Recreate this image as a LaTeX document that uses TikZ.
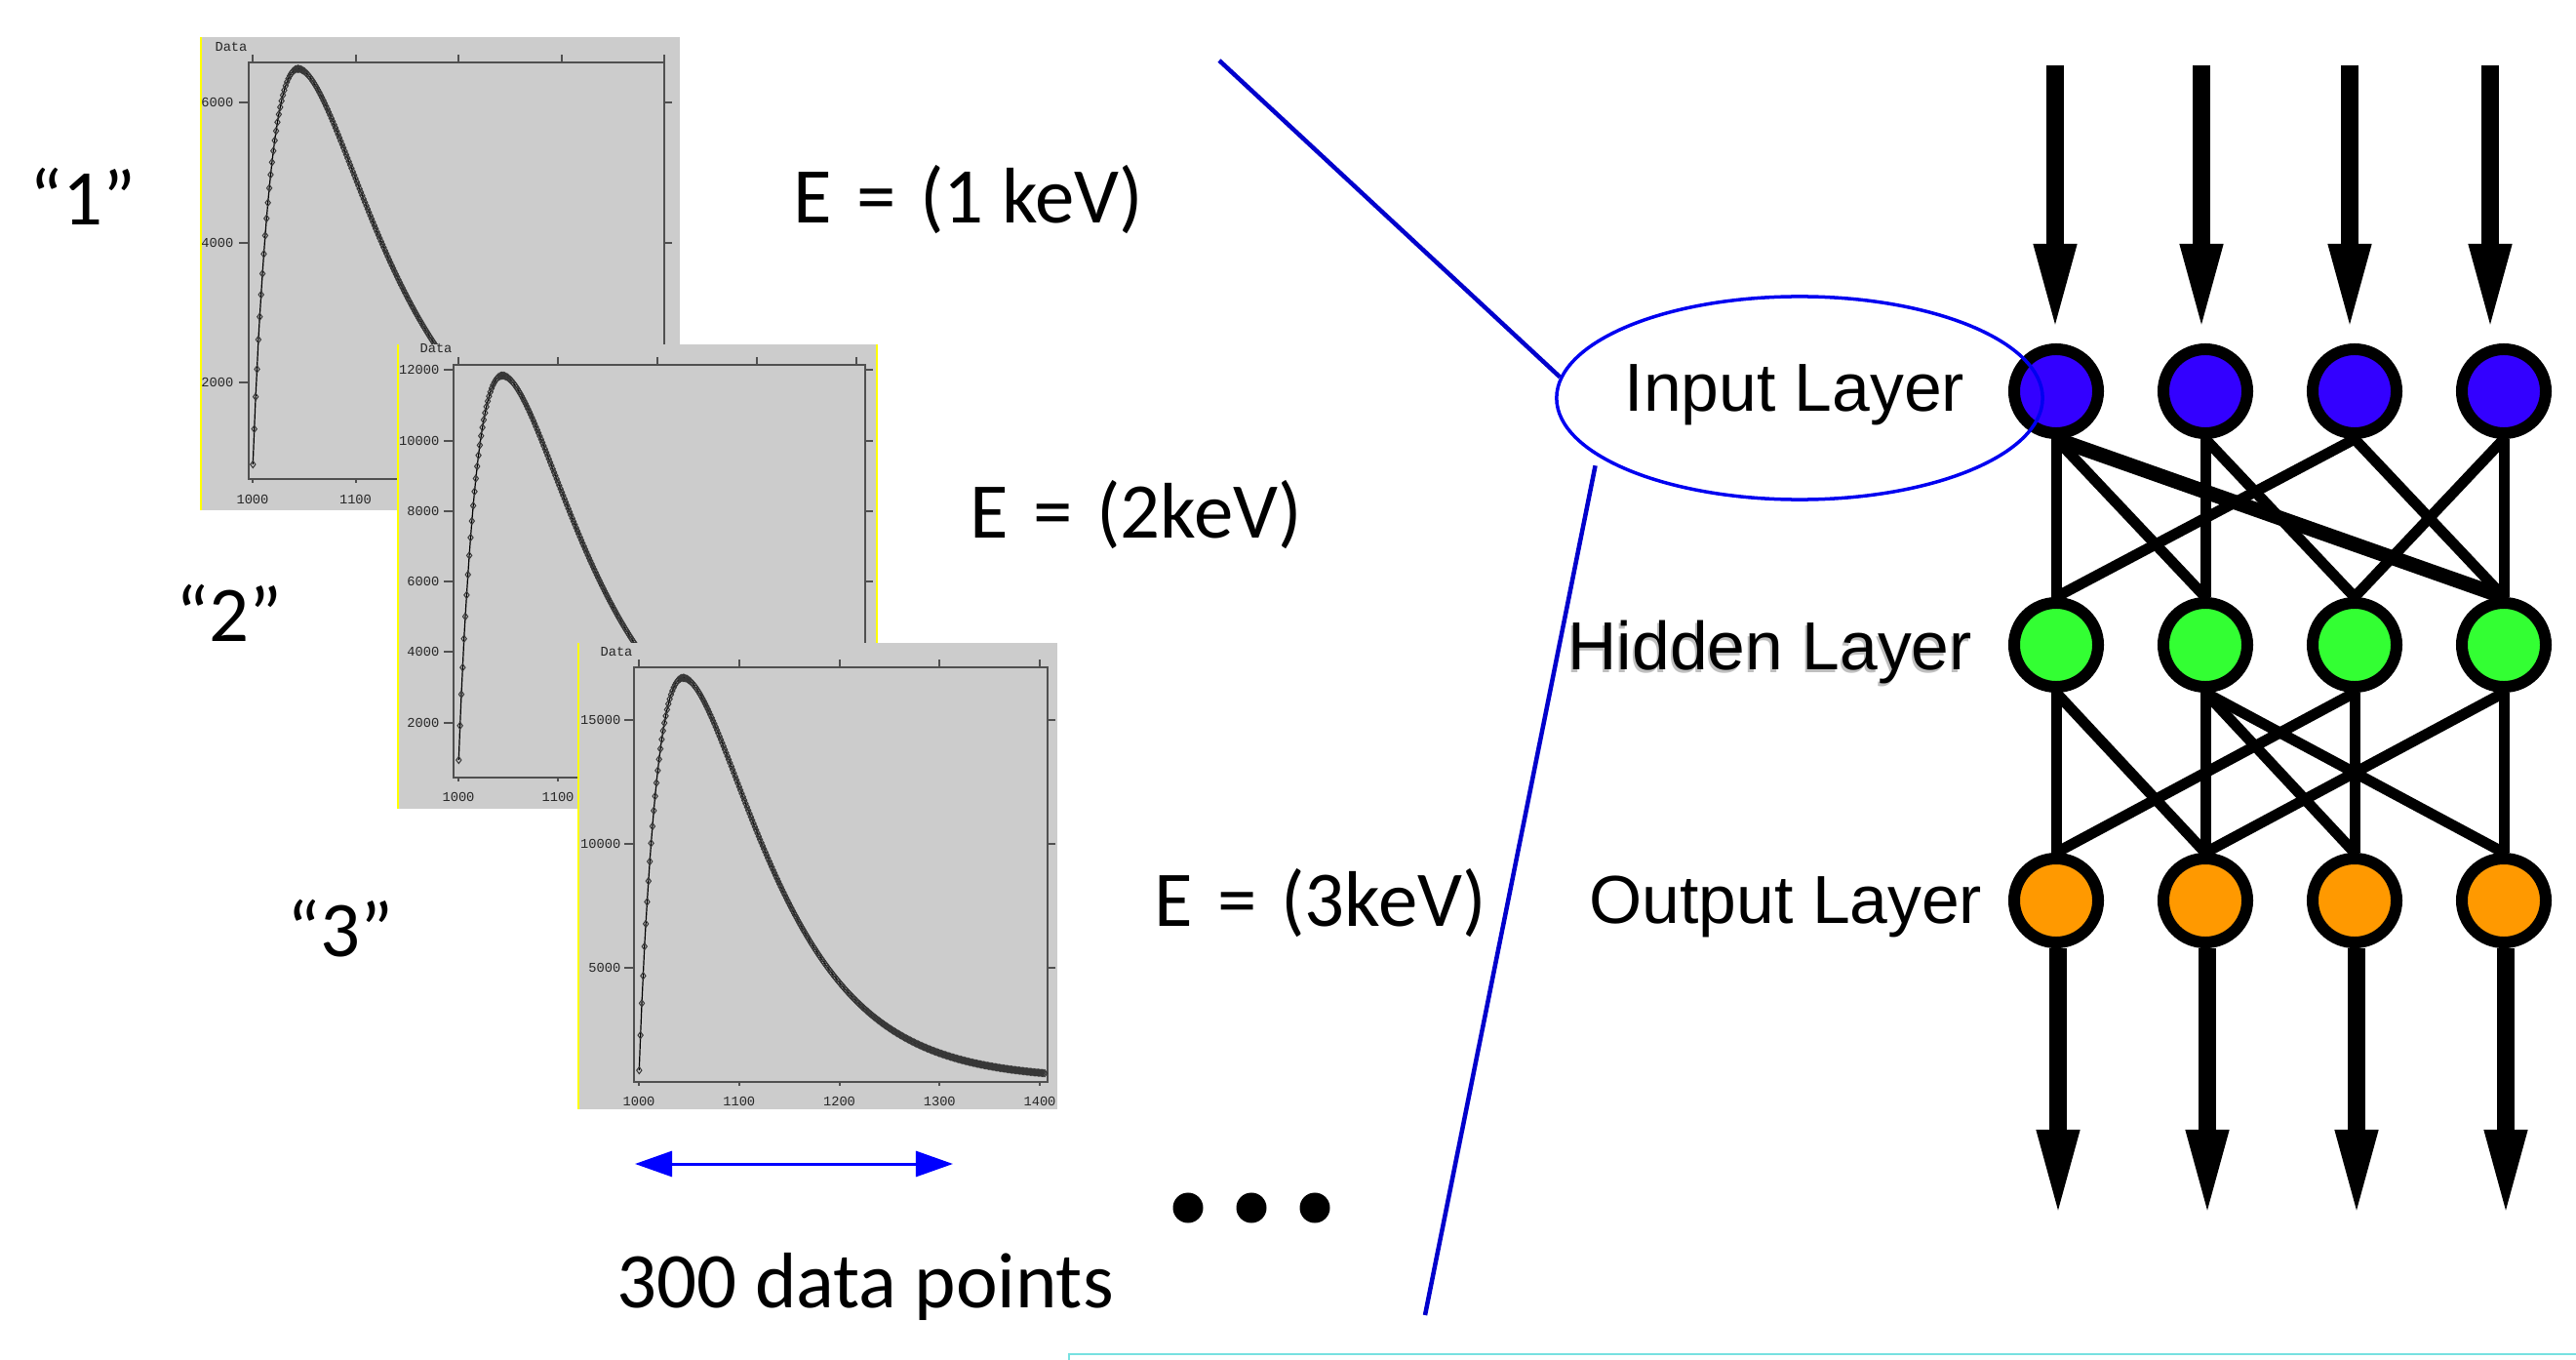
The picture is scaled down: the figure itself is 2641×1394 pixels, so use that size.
\documentclass[tikz,border=0pt]{standalone}
\usepackage{fontspec}
\setmainfont{Carlito}
\newfontfamily\lblarial{Liberation Sans}
\newfontfamily\lblmono{Liberation Mono}
\usetikzlibrary{arrows.meta,shapes.geometric,plotmarks}
\pgfdeclarelayer{background}
\pgfsetlayers{background,main}
\definecolor{plotgray}{RGB}{204,204,204}
\definecolor{framegray}{RGB}{80,80,80}
\definecolor{markgray}{RGB}{55,55,55}
\definecolor{plotyellow}{RGB}{255,255,0}
\definecolor{inblue}{RGB}{51,0,255}
\definecolor{hidgreen}{RGB}{51,255,51}
\definecolor{outorange}{RGB}{255,153,0}
\definecolor{linkblue}{RGB}{0,0,204}
\definecolor{ellblue}{RGB}{0,0,240}
\definecolor{arrowblue}{RGB}{0,0,255}
\definecolor{boxcyan}{RGB}{120,225,225}

\newcommand\drawspectrum{%
  \fill[plotgray] (\spBgL,\spBgT) rectangle (\spBgR,\spBgB);
  \draw[frameline] (\spFrL,\spFrT) rectangle (\spFrR,\spFrB);
  \foreach \v in {1000,1100,1200,1300,1400}{%
    \pgfmathsetmacro\spX{\spXo+\spXs*(\v-1000)}%
    \draw[frameline] (\spX,\spFrT) -- ++(0,-8);
    \draw[frameline] (\spX,\spFrB) -- ++(0,4);
    \node[ticklab] (\spId xl\v) at (\spX,\spLabY) {\v};
  }%
  \foreach \v in \spYticks{%
    \pgfmathsetmacro\spY{\spYo-\spYs*\v}%
    \draw[frameline] (\spFrL,\spY) -- ++(-10,0);
    \draw[frameline] (\spFrR,\spY) -- ++(8,0);
    \node[ticklab,anchor=east] (\spId yl\v) at (\spLabR,\spY) {\v};
  }%
  \node[ticklab] (\spId data) at (\spDataX,\spDataY) {Data};
  \draw[curveline] plot[mark=diamond,domain=0.3:44,samples=34] ({\spXo+\spXs*\x},{\spBpx-\spApx*exp(0.95*(ln(\x/44)+1-\x/44))});
  \draw[curveline] plot[mark=diamond,domain=44:405,samples=278] ({\spXo+\spXs*\x},{\spBpx-\spApx*exp(0.7*(ln(\x/44)+1-\x/44))});
}

\begin{document}
\begin{tikzpicture}[x=0.01cm,y=-0.01cm,
  frameline/.style={draw=framegray,line width=0.02cm},
  ticklab/.style={font=\lblmono\fontsize{3.9}{4.5}\selectfont,text=black!85,inner sep=0pt},
  curveline/.style={draw=black,line width=0.012cm,mark size=0.035cm,mark options={draw=markgray,line width=0.01cm,solid}},
  yellowedge/.style={draw=plotyellow,line width=0.02cm},
  neuron/.style={circle,draw=black,line width=0.12cm,minimum size=0.86cm,inner sep=0pt},
  nnedge/.style={draw=black,line width=0.11cm},
  bigarrow/.style={draw=black,line width=0.18cm,-{Triangle[width=0.39cm,length=0.92cm]}},
  layerlab/.style={font=\lblarial\fontsize{19.8}{22}\selectfont,inner sep=0pt,anchor=base west},
  biglab/.style={font=\fontsize{23}{27}\selectfont,inner sep=0pt,anchor=base west},
  blueline/.style={draw=linkblue,line width=0.045cm},
]
\useasboundingbox (0,0) rectangle (2641,1394);

% ---------- spectrum 1 ----------
\begin{scope}
\def\spId{pa}
\def\spBgL{206}\def\spBgT{38}\def\spBgR{697}\def\spBgB{523}
\def\spFrL{255}\def\spFrT{64}\def\spFrR{681}\def\spFrB{491}
\def\spXo{259}\def\spXs{1.055}
\def\spYo{535.5}\def\spYs{0.07175}
\def\spBpx{485.3}\def\spApx{414.7}
\def\spLabY{512}\def\spLabR{240}
\def\spYticks{2000,4000,6000}
\def\spDataX{237}\def\spDataY{48}
\drawspectrum
\draw[yellowedge] (206,38) -- (206,523);
\end{scope}

% ---------- spectrum 2 ----------
\begin{scope}
\def\spId{pb}
\def\spBgL{408}\def\spBgT{353}\def\spBgR{899}\def\spBgB{829}
\def\spFrL{465}\def\spFrT{374}\def\spFrR{887}\def\spFrB{797}
\def\spXo{470}\def\spXs{1.02}
\def\spYo{813}\def\spYs{0.03615}
\def\spBpx{788.1}\def\spApx{403.1}
\def\spLabY{817}\def\spLabR{451}
\def\spYticks{2000,4000,6000,8000,10000,12000}
\def\spDataX{447}\def\spDataY{357}
\drawspectrum
\draw[yellowedge] (408,353) -- (408,829);
\draw[yellowedge] (899,353) -- (899,829);
\end{scope}

% ---------- spectrum 3 ----------
\begin{scope}
\def\spId{pc}
\def\spBgL{593}\def\spBgT{659}\def\spBgR{1084}\def\spBgB{1137}
\def\spFrL{650}\def\spFrT{684}\def\spFrR{1074}\def\spFrB{1109}
\def\spXo{655}\def\spXs{1.0275}
\def\spYo{1119}\def\spYs{0.0254}
\def\spBpx{1106.3}\def\spApx{411.5}
\def\spLabY{1129}\def\spLabR{637}
\def\spYticks{5000,10000,15000}
\def\spDataX{632}\def\spDataY{668}
\drawspectrum
\draw[yellowedge] (593,659) -- (593,1137);
\end{scope}

% ---------- left labels ----------
\node[biglab] (q1) at (30,231) {“1”};
\node[biglab] (q2) at (180,657) {“2”};
\node[biglab] (q3) at (294,980) {“3”};
\node[biglab] (e1) at (813,229) {E\hspace{0.25cm}=\hspace{0.25cm}(1 keV)};
\node[biglab] (e2) at (994,551) {E\hspace{0.25cm}=\hspace{0.25cm}(2keV)};
\node[biglab] (e3) at (1183,949) {E\hspace{0.25cm}=\hspace{0.25cm}(3keV)};
\node[biglab] (npts) at (632,1340) {300 data points};

\coordinate (dal) at (651,1193);
\coordinate (dar) at (977,1193);
\draw[draw=arrowblue,line width=0.03cm,{Triangle[width=0.26cm,length=0.38cm]}-{Triangle[width=0.26cm,length=0.38cm]}] (dal) -- (dar);

\foreach \i/\xx in {1/1218,2/1283,3/1348}
  \node[circle,fill=black,minimum size=0.31cm,inner sep=0pt] (dot\i) at (\xx,1238) {};

% ---------- network ----------
\foreach \i/\xx in {1/2108,2/2261,3/2414,4/2567} {
  \node[neuron,fill=inblue] (i\i) at (\xx,401) {};
  \node[neuron,fill=hidgreen] (h\i) at (\xx,661) {};
  \node[neuron,fill=outorange] (o\i) at (\xx,923) {};
}
\begin{pgfonlayer}{background}
\foreach \a/\b in {1/1,1/2,2/2,2/3,3/1,3/4,4/3,4/4}
  \draw[nnedge] (i\a.south) -- (h\b.north);
\draw[nnedge,line width=0.15cm] (i1.south) -- (h4.north);
\foreach \a/\b in {1/1,1/2,2/2,2/3,2/4,3/1,3/3,4/2,4/4}
  \draw[nnedge] (h\a.south) -- (o\b.north);
\end{pgfonlayer}

\foreach \i/\xx in {1/2107,2/2257,3/2409,4/2553} {
  \coordinate (it\i) at (\xx,67);
  \coordinate (ib\i) at (\xx,342);
  \draw[bigarrow] (it\i) -- (ib\i);
}
\foreach \i/\xx in {1/2110,2/2263,3/2416,4/2569} {
  \coordinate (ob\i) at (\xx,1250);
  \draw[bigarrow] (o\i.south -| ob\i) -- (ob\i);
}

\node[layerlab] (inlab) at (1665,422) {Input Layer};
\node[layerlab,text=black!25] (hidshadow) at (1605,689) {Hidden Layer};
\node[layerlab] (hidlab) at (1607,686) {Hidden Layer};
\node[layerlab] (outlab) at (1629,946) {Output Layer};

% ---------- zoom lines ----------
\node[ellipse,draw=ellblue,line width=0.035cm,minimum width=4.98cm,minimum height=2.08cm,inner sep=0pt] (ell) at (1845,408) {};
\coordinate (bl1) at (1250,62);
\draw[blueline] (bl1) -- (ell.175);
\coordinate (bl2) at (1461,1348);
\draw[blueline,shorten <=0.1cm] (ell.196) -- (bl2);

\coordinate (cy1) at (1096,1400);
\coordinate (cy2) at (2650,1388);
\draw[draw=boxcyan,line width=0.025cm] (cy1) |- (cy2);
\end{tikzpicture}
\end{document}
